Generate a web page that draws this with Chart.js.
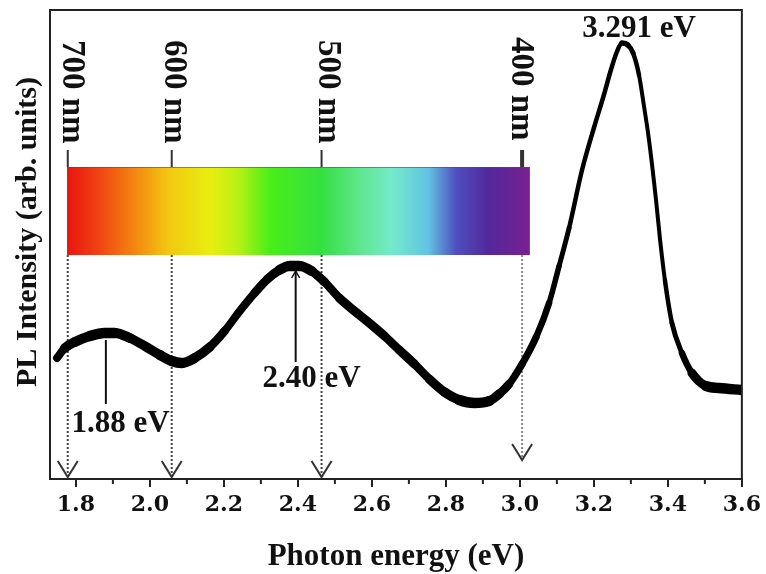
<!DOCTYPE html>
<html>
<head>
<meta charset="utf-8">
<script src="https://cdn.jsdelivr.net/npm/chart.js@4.4.0/dist/chart.umd.min.js"></script>
<style>
 html,body{margin:0;padding:0;background:#fff;}
 #wrap{width:766px;height:574px;}
</style>
</head>
<body>
<div id="wrap"><canvas id="canvas_pl" width="766" height="574"></canvas></div>
<script>
/* PL spectrum (arb. units) */
var energy=[1.749,1.770,1.797,1.838,1.878,1.905,1.946,1.986,2.027,2.059,2.086,2.121,2.162,2.202,2.243,2.283,2.318,2.350,2.377,2.404,
 2.437,2.472,2.512,2.553,2.593,2.634,2.674,2.715,2.755,2.796,2.836,2.877,2.917,2.944,2.971,3.006,3.044,3.079,3.106,3.133,
 3.168,3.200,3.227,3.246,3.262,3.276,3.292,3.306,3.322,3.335,3.349,3.368,3.379,3.392,3.411,3.438,3.465,3.503,3.538,3.600];
var intensity=[121,131,137,143,146,146,141,133,124,118,116,121,132,148,168,186,200,209,213,213,
 208,197,181,168,156,143,129,115,100,87,79,76,78,85,95,115,142,176,213,251,
 309,351,384,409,427,436,434,426,404,374,339,279,239,199,156,126,106,93,91,89];

/* axis ticks */
var energyTicks=[1.8,2.0,2.2,2.4,2.6,2.8,3.0,3.2,3.4,3.6];
var minorTicks=[1.9,2.1,2.3,2.5,2.7,2.9,3.1,3.3,3.5];

/* wavelength markers */
var wavelengthLabels=['700 nm','600 nm','500 nm','400 nm'];
var wavelengthEnergy=[1.778,2.059,2.464,3.006];
var wavelengthLabelEnergy=[1.789,2.064,2.480,3.003];
var wavelengthLabelTop=[439,439,439,442];
var wavelengthArrowTip=[2,2,2,19];

/* peak annotations */
var peakLabels=['1.88 eV','2.40 eV','3.291 eV'];
var peakLabelEnergy=[1.921,2.437,3.322];
var peakLabelBase=[47,92,442];
var peakLineEnergy=[1.881,2.394];
var peakLineTop=[139,208];
var peakLineBottom=[75,117];

/* colour bar */
var spectrumRange=[1.776,3.027];
var spectrumBand=[224,312];
var spectrumStops=[0,0.07,0.15,0.22,0.31,0.37,0.44,0.55,0.63,0.70,0.78,0.84,0.91,1];
var spectrumColors=['#e8150f','#f04412','#f38a10','#f2c810','#e8ee10','#b8f014','#48ee18','#34e040','#5ee68c','#74eac8','#62c4e2','#5050c0','#52289c','#7a2090'];

var ink='#111';
var serif='"Liberation Serif","Times New Roman",serif';

/* arrow head helper */
function vhead(ctx,x,y,w,h){
 ctx.beginPath();
 ctx.moveTo(x-w,y-h);ctx.lineTo(x,y);ctx.lineTo(x+w,y-h);
 ctx.stroke();
}

/* noise band of the trace: wide on the visible part, narrow on the UV peak */
function noiseAmp(e){
 if(e<3.08) return 6.5;
 if(e<3.15) return 6.5-5*(e-3.08)/0.07;
 if(e<3.40) return 1.5;
 if(e<3.46) return 1.5+5*(e-3.40)/0.06;
 return 6.5;
}

var overlay={
 id:'overlay',
 beforeDatasetsDraw:function(chart){
  var ctx=chart.ctx,sx=chart.scales.x,sy=chart.scales.y;
  ctx.save();
  // spectrum bar
  var x0=sx.getPixelForValue(spectrumRange[0]),x1=sx.getPixelForValue(spectrumRange[1]);
  var yt=sy.getPixelForValue(spectrumBand[1]),yb=sy.getPixelForValue(spectrumBand[0]);
  var g=ctx.createLinearGradient(x0,0,x1,0);
  for(var i=0;i<spectrumStops.length;i++){g.addColorStop(spectrumStops[i],spectrumColors[i]);}
  ctx.fillStyle=g;
  ctx.fillRect(x0,yt,x1-x0,yb-yt);
  ctx.strokeStyle='rgba(80,80,80,0.6)';ctx.lineWidth=1;
  ctx.beginPath();ctx.moveTo(x0,yt+0.5);ctx.lineTo(x1,yt+0.5);ctx.stroke();
  // wavelength ticks and dotted arrows
  for(var j=0;j<wavelengthEnergy.length;j++){
   var px=sx.getPixelForValue(wavelengthEnergy[j]);
   var last=(j==wavelengthEnergy.length-1);
   ctx.setLineDash([]);
   ctx.strokeStyle='#333';ctx.lineWidth=last?4:2;
   ctx.beginPath();ctx.moveTo(px,yt-17);ctx.lineTo(px,yt);ctx.stroke();
   var tip=sy.getPixelForValue(wavelengthArrowTip[j]);
   ctx.strokeStyle=last?'#8a8a8a':'#444';ctx.lineWidth=2;
   ctx.setLineDash([2,2]);
   ctx.beginPath();ctx.moveTo(px,yb);ctx.lineTo(px,tip);ctx.stroke();
   ctx.setLineDash([]);
   ctx.strokeStyle='#333';ctx.lineWidth=2;
   vhead(ctx,px,tip,10,16);
  }
  ctx.restore();
 },
 afterDraw:function(chart){
  var ctx=chart.ctx,sx=chart.scales.x,sy=chart.scales.y,a=chart.chartArea;
  ctx.save();
  // frame top and right
  ctx.strokeStyle='#222';ctx.lineWidth=2;
  ctx.beginPath();
  ctx.moveTo(a.left,a.top);ctx.lineTo(a.right,a.top);ctx.lineTo(a.right,a.bottom);
  ctx.stroke();
  // minor ticks
  minorTicks.forEach(function(v){
   var px=sx.getPixelForValue(v);
   ctx.beginPath();ctx.moveTo(px,a.bottom);ctx.lineTo(px,a.bottom+5);ctx.stroke();
  });
  // peak marker lines
  ctx.strokeStyle='#111';ctx.lineWidth=2;
  for(var k=0;k<peakLineEnergy.length;k++){
   var lx=sx.getPixelForValue(peakLineEnergy[k]);
   var ly0=sy.getPixelForValue(peakLineTop[k]),ly1=sy.getPixelForValue(peakLineBottom[k]);
   ctx.beginPath();ctx.moveTo(lx,ly0);ctx.lineTo(lx,ly1);ctx.stroke();
  }
  ctx.lineWidth=1.5;
  vhead(ctx,sx.getPixelForValue(peakLineEnergy[1]),sy.getPixelForValue(peakLineTop[1]),4,-7);
  // peak labels
  ctx.fillStyle=ink;
  ctx.font='bold 31px '+serif;
  ctx.textAlign='center';ctx.textBaseline='alphabetic';
  for(var m=0;m<peakLabels.length;m++){
   ctx.fillText(peakLabels[m],sx.getPixelForValue(peakLabelEnergy[m]),sy.getPixelForValue(peakLabelBase[m]));
  }
  // wavelength labels, rotated clockwise
  ctx.font='bold 33px '+serif;
  ctx.textAlign='left';ctx.textBaseline='middle';
  for(var n=0;n<wavelengthLabels.length;n++){
   ctx.save();
   ctx.translate(sx.getPixelForValue(wavelengthLabelEnergy[n]),sy.getPixelForValue(wavelengthLabelTop[n]));
   ctx.rotate(Math.PI/2);
   ctx.fillText(wavelengthLabels[n],0,0);
   ctx.restore();
  }
  // y axis title
  ctx.save();
  ctx.font='bold 30px '+serif;
  ctx.textAlign='center';ctx.textBaseline='middle';
  ctx.translate(28,232);
  ctx.rotate(-Math.PI/2);
  ctx.fillText('PL Intensity (arb. units)',0,0);
  ctx.restore();
  ctx.restore();
 }
};

var ctx=document.getElementById('canvas_pl').getContext('2d');
var myChart=new Chart(ctx,{
 type:'line',
 data:{
  datasets:[{
   data:energy.map(function(e,i){return {x:e,y:intensity[i]};}),
   borderColor:'#000',
   pointRadius:0,
   borderWidth:6,
   cubicInterpolationMode:'monotone',
   borderCapStyle:'round',
   borderJoinStyle:'round',
   segment:{
    // thicker where the curve is flat
    borderWidth:function(c){
     var dx=c.p1.x-c.p0.x,dy=c.p1.y-c.p0.y;
     var k=Math.abs(dx)/Math.hypot(dx,dy);
     var e=(c.p0.parsed.x+c.p1.parsed.x)/2;
     return Math.round((4+noiseAmp(e)*k)*2)/2;
    }
   }
  }]
 },
 options:{
  responsive:false,
  animation:false,
  devicePixelRatio:1,
  layout:{padding:{left:0,top:10,right:22,bottom:0}},
  plugins:{legend:{display:false},tooltip:{enabled:false}},
  scales:{
   x:{
    type:'linear',
    min:1.73,max:3.6,
    afterBuildTicks:function(s){s.ticks=energyTicks.map(function(v){return {value:v};});},
    afterFit:function(s){s.height=95;},
    grid:{drawOnChartArea:false,tickLength:8,color:'#222',lineWidth:2},
    border:{color:'#222',width:2},
    ticks:{
     autoSkip:false,maxRotation:0,padding:5,color:ink,
     font:{family:'"DejaVu Serif"',weight:'bold',size:22},
     callback:function(v){return Number(v).toFixed(1);}
    },
    title:{display:true,text:'Photon energy (eV)',color:ink,padding:{top:0,bottom:-2},
     font:{family:serif,weight:'bold',size:31}}
   },
   y:{
    min:0,max:469,
    afterFit:function(s){s.width=50;},
    grid:{display:false},
    border:{color:'#222',width:2},
    ticks:{display:false}
   }
  }
 },
 plugins:[overlay]
});
</script>
</body>
</html>
